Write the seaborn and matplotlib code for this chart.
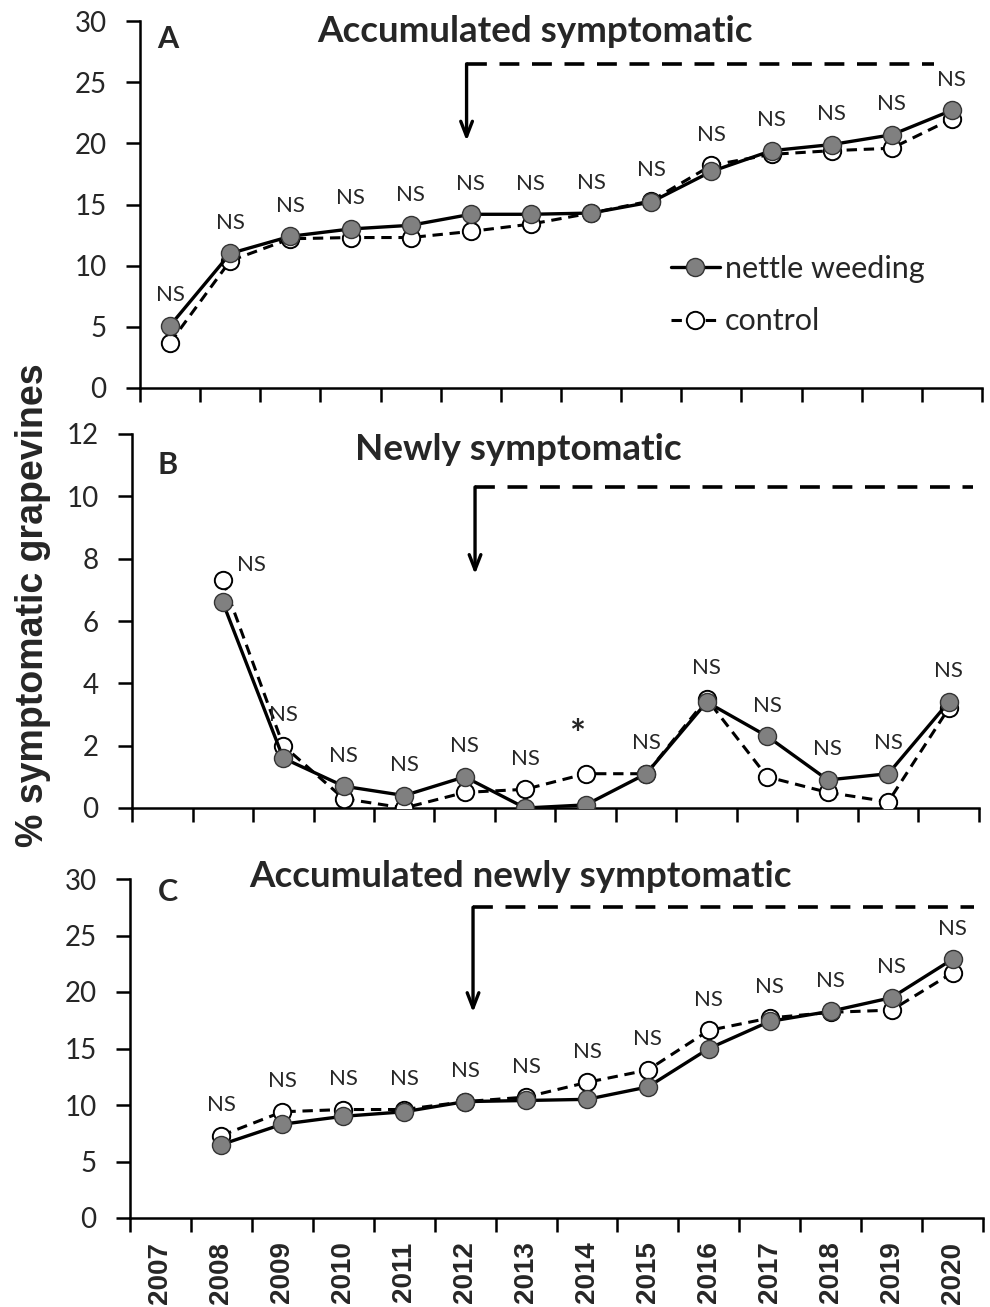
import numpy as np
import pandas as pd
import seaborn as sns
import matplotlib.pyplot as plt

# ---- data -------------------------------------------------------------
years = [str(y) for y in range(2007, 2021)]

acc_years = years
acc_nettle = [5.1, 11.0, 12.4, 13.0, 13.3, 14.2, 14.2, 14.3, 15.2, 17.7, 19.4, 19.9, 20.7, 22.7]
acc_control = [3.7, 10.4, 12.2, 12.3, 12.3, 12.8, 13.4, 14.3, 15.3, 18.2, 19.1, 19.4, 19.6, 22.0]
acc_sig = ["NS"] * 14

new_years = years[1:]
new_nettle = [6.6, 1.6, 0.7, 0.4, 1.0, 0.0, 0.1, 1.1, 3.4, 2.3, 0.9, 1.1, 3.4]
new_control = [7.3, 2.0, 0.3, 0.0, 0.5, 0.6, 1.1, 1.1, 3.5, 1.0, 0.5, 0.2, 3.2]
new_sig = ["NS", "NS", "NS", "NS", "NS", "NS", "*", "NS", "NS", "NS", "NS", "NS", "NS"]

accnew_years = years[1:]
accnew_nettle = [6.5, 8.3, 9.0, 9.4, 10.3, 10.4, 10.5, 11.6, 15.0, 17.4, 18.3, 19.5, 22.9]
accnew_control = [7.3, 9.4, 9.6, 9.6, 10.3, 10.7, 12.0, 13.1, 16.6, 17.7, 18.2, 18.4, 21.7]
accnew_sig = ["NS"] * 13

panel_letters = ["A", "B", "C"]
panel_titles = ["Accumulated symptomatic", "Newly symptomatic",
                "Accumulated newly symptomatic"]
series_names = ["nettle weeding", "control"]
ylabel = "% symptomatic grapevines"
treatment_year = "2012"

# ---- style ------------------------------------------------------------
sns.set_theme(style="white")
FONT = ["Lato", "DejaVu Sans"]
BOLD_SANS = ["Liberation Sans", "DejaVu Sans"]
plt.rcParams["font.family"] = FONT
plt.rcParams["axes.linewidth"] = 1.8

W, H = 990, 1307
fig = plt.figure(figsize=(W / 100, H / 100), dpi=100)


def frac_rect(l, t, r, b):
    return [l / W, 1 - b / H, (r - l) / W, (b - t) / H]


panels = [
    dict(rect=frac_rect(140, 21, 982, 388), ymax=30, ystep=5,
         years=acc_years, nettle=acc_nettle, control=acc_control, sig=acc_sig,
         bracket=(-0.07, 26.5, 20.2, 12.7), title_base=42, letter_y=39),
    dict(rect=frac_rect(132, 434, 979, 808), ymax=12, ystep=2,
         years=new_years, nettle=new_nettle, control=new_control, sig=new_sig,
         bracket=(0.17, 10.3, 7.5, 13.4), title_base=460, letter_y=465),
    dict(rect=frac_rect(130, 879, 983, 1218), ymax=30, ystep=5,
         years=accnew_years, nettle=accnew_nettle, control=accnew_control, sig=accnew_sig,
         bracket=(0.13, 27.5, 18.2, 13.35), title_base=887, letter_y=892),
]
title_cx = [535, 518, 520]

axes = []
for k, p in enumerate(panels):
    ax = fig.add_axes(p["rect"])
    axes.append(ax)
    pos = [years.index(y) for y in p["years"]]
    df = pd.DataFrame({"pos": pos, "nettle": p["nettle"], "control": p["control"]})

    sns.lineplot(data=df, x="pos", y="control", ax=ax, color="black",
                 linestyle=(0, (3.4, 2.2)), linewidth=2.2, marker="o",
                 markersize=12.5, markerfacecolor="white", markeredgecolor="black",
                 markeredgewidth=1.4, zorder=3, label=series_names[1])
    sns.lineplot(data=df, x="pos", y="nettle", ax=ax, color="black",
                 linewidth=2.4, marker="o", markersize=13,
                 markerfacecolor="#808080", markeredgecolor="#333333",
                 markeredgewidth=1.0, zorder=4, label=series_names[0])

    ax.set_xlim(-0.5, len(years) - 0.5)
    ax.set_ylim(0, p["ymax"])
    ax.set_yticks(np.arange(0, p["ymax"] + 0.1, p["ystep"]))
    ax.set_xticks(np.arange(-0.5, len(years)), minor=False)
    ax.set_xticklabels([])
    ax.set_xticks(np.arange(len(years)), minor=True)
    if k == 2:
        ax.set_xticklabels(years, minor=True, rotation=90, fontsize=20,
                           fontweight="bold", family=BOLD_SANS)
    else:
        ax.set_xticklabels([], minor=True)
    ax.tick_params(axis="x", which="major", direction="out", length=10,
                   width=1.8, color="black", bottom=True)
    ax.tick_params(axis="x", which="minor", length=0, pad=17)
    ax.tick_params(axis="y", direction="out", length=10, width=1.8,
                   color="black", left=True, labelsize=20, pad=14)
    for s in ["top", "right"]:
        ax.spines[s].set_visible(False)
    for s in ["left", "bottom"]:
        ax.spines[s].set_color("black")
    ax.set_xlabel("")
    ax.set_ylabel("")
    ax.get_legend().remove()

    # significance labels
    for i, (xp, n, c, s) in enumerate(zip(pos, p["nettle"], p["control"], p["sig"])):
        top = max(n, c)
        if k == 1 and i == 0:
            off = (21, 11)
        else:
            off = (0, 22)
        if s == "*":
            ax.annotate(s, xy=(xp, top), xytext=(-6, 27), textcoords="offset points",
                        ha="center", va="center", fontsize=27, fontweight="bold")
        else:
            ax.annotate(s, xy=(xp, top), xytext=off, textcoords="offset points",
                        ha="center", va="center", fontsize=16)

    # treatment bracket: dashed line and arrow
    dx, ytop, ytip, xend = p["bracket"]
    xs = years.index(treatment_year) + dx
    ax.plot([xs, xend], [ytop, ytop], color="black", linewidth=2.6,
            linestyle=(0, (5.5, 3.5)), solid_capstyle="butt", clip_on=False)
    ax.annotate("", xy=(xs, ytip), xytext=(xs, ytop),
                arrowprops=dict(arrowstyle="->,head_length=0.9,head_width=0.35",
                                color="black", lw=2.4, shrinkA=0, shrinkB=0))

    fig.text(title_cx[k] / W, 1 - p["title_base"] / H, panel_titles[k],
             ha="center", va="baseline", fontsize=26.5, fontweight="bold")
    fig.text(168 / W, 1 - p["letter_y"] / H, panel_letters[k], ha="center",
             va="center", fontsize=22, fontweight="bold")

# legend in the top panel
h, l = axes[0].get_legend_handles_labels()
order = [l.index(series_names[0]), l.index(series_names[1])]
axes[0].legend([h[i] for i in order], [l[i] for i in order], loc="upper left",
               bbox_to_anchor=(671 / W, 1 - 255 / H), bbox_transform=fig.transFigure,
               frameon=False, fontsize=22, handlelength=1.6, handletextpad=0.17,
               labelspacing=0.8, borderpad=0, borderaxespad=0)

fig.text(33 / W, 1 - 605 / H, ylabel, rotation=90, ha="center", va="center",
         fontsize=27, fontweight="bold", family=BOLD_SANS)

fig.savefig("out.png", dpi=100)
